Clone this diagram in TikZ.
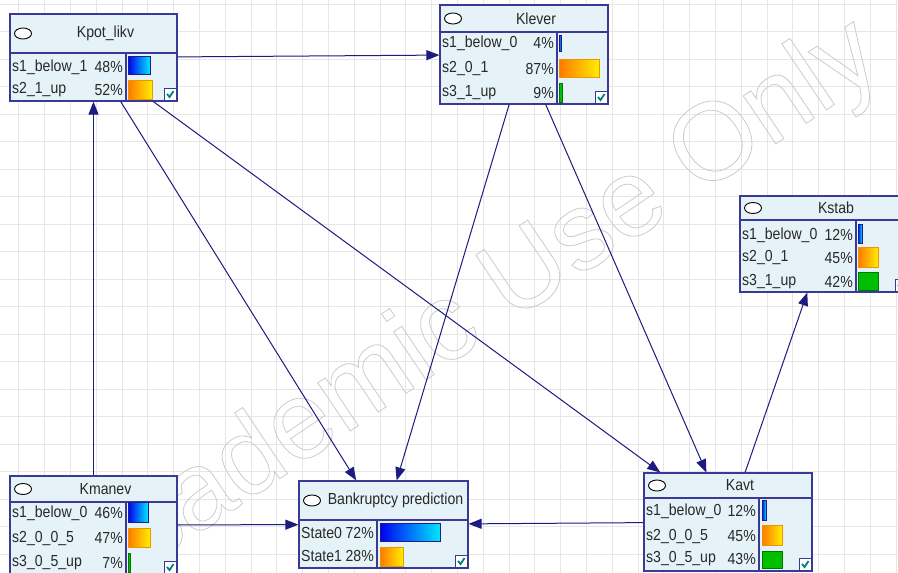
\documentclass[tikz,border=0pt]{standalone}
\usepackage{fontspec}
\setmainfont{Liberation Sans}
\newfontfamily\boxfont[FakeStretch=0.88]{Liberation Sans}
\usetikzlibrary{arrows.meta}

\definecolor{boxfill}{RGB}{229,243,248}
\definecolor{navyline}{RGB}{58,58,150}
\definecolor{arcnavy}{RGB}{28,28,128}
\definecolor{gridgray}{RGB}{230,230,230}
\definecolor{tickteal}{RGB}{0,128,128}
\definecolor{blueL}{RGB}{0,0,240}
\definecolor{blueR}{RGB}{0,230,255}
\definecolor{blueD}{RGB}{30,30,130}
\definecolor{orangeL}{RGB}{255,120,0}
\definecolor{orangeR}{RGB}{255,238,0}
\definecolor{orangeD}{RGB}{235,150,0}
\definecolor{greenF}{RGB}{0,190,0}
\definecolor{greenD}{RGB}{0,120,0}
\definecolor{textgray}{RGB}{40,40,40}

\tikzset{
  netbox/.style={draw=navyline, fill=boxfill, line width=1.2pt, inner sep=0pt},
  divline/.style={draw=navyline, line width=1.2pt},
  nodeoval/.style={draw=black, fill=white, line width=0.9pt},
  titletext/.style={inner sep=0pt, text=textgray, font=\boxfont\fontsize{16}{18}\selectfont},
  rowtext/.style={inner sep=0pt, text=textgray, font=\boxfont\fontsize{16}{18}\selectfont},
  tickbox/.style={draw=navyline, fill=white, line width=1pt},
  tickmark/.style={draw=tickteal, line width=1.8pt},
  bluebar/.style={left color=blueL, right color=blueR, draw=blueD, line width=0.8pt},
  orangebar/.style={left color=orangeL, right color=orangeR, draw=orangeD, line width=0.8pt},
  greenbar/.style={fill=greenF, draw=greenD, line width=0.8pt},
  gridline/.style={draw=gridgray, line width=0.6pt},
  arc/.style={draw=arcnavy, line width=1pt, -{Triangle[length=13pt, width=10pt]}},
  watermark/.style={inner sep=0pt, text=gray!40, font=\fontsize{110}{110}\selectfont}
}

% name, left, top, right, bottom, title bottom, column, title
\newcommand{\netnode}[8]{%
  \node[netbox, minimum width={#4-#2}, minimum height={#5-#3}] (#1) at ({(#2+#4)/2},{(#3+#5)/2}) {};
  \draw[divline] (#2,#6) -- (#4,#6);
  \draw[divline] (#7,#6) -- (#7,#5);
  \draw[nodeoval] (#2+13,{(#3+#6)/2}) ellipse (8.5 and 5.5);
  \node[titletext] (#1t) at ({(#2+24+#4)/2},{(#3+#6)/2}) {#8};
  \draw[tickbox] (#4-13,#5-13) rectangle (#4-1,#5-1);
  \draw[tickmark] (#4-10,#5-7) -- (#4-7.5,#5-4) -- (#4-3.5,#5-10);
}
% name, left, column, y, state, percent
\newcommand{\staterow}[6]{%
  \node[rowtext, anchor=west] (#1) at (#2+2,#4) {#5};
  \node[rowtext, anchor=east] (#1p) at (#3-3,#4) {#6};
}

\begin{document}
\begin{tikzpicture}[x=1pt, y=-1pt]
\useasboundingbox (0,0) rectangle (898,573);
\clip (0,0) rectangle (898,573);
\fill[white] (0,0) rectangle (898,573);

% grid
\foreach \gx in {18.6,44.4,...,898} \draw[gridline] (\gx,0) -- (\gx,573);
\foreach \gy in {4.2,31.7,...,573} \draw[gridline] (0,\gy) -- (898,\gy);

\node[watermark, rotate=34] (stamp) at (470,316)
  {\special{pdf:literal direct 1 Tr 0.8 w}Academic Use Only\special{pdf:literal direct 0 Tr}};

% Kpot_likv
\netnode{kpot}{10}{14}{177}{101}{53}{126}{Kpot\_likv}
\staterow{kpotA}{10}{126}{67}{s1\_below\_1}{48\%}
\staterow{kpotB}{10}{126}{90}{s2\_1\_up}{52\%}
\path[bluebar] (128,56) rectangle (150,74);
\path[orangebar] (128,80) rectangle (152,99);

% Klever
\netnode{klever}{440}{5}{608}{104}{32}{557}{Klever}
\staterow{kleverA}{440}{557}{43}{s1\_below\_0}{4\%}
\staterow{kleverB}{440}{557}{69}{s2\_0\_1}{87\%}
\staterow{kleverC}{440}{557}{93}{s3\_1\_up}{9\%}
\path[bluebar] (559,35) rectangle (561,51);
\path[orangebar] (559,59) rectangle (599,77);
\path[greenbar] (559,83) rectangle (562,102);

% Kstab
\netnode{kstab}{740}{196}{908}{292}{220}{856}{Kstab}
\staterow{kstabA}{740}{856}{235}{s1\_below\_0}{12\%}
\staterow{kstabB}{740}{856}{258}{s2\_0\_1}{45\%}
\staterow{kstabC}{740}{856}{282}{s3\_1\_up}{42\%}
\path[bluebar] (858,224) rectangle (862,243);
\path[orangebar] (858,247) rectangle (878,267);
\path[greenbar] (858,272) rectangle (878,290);

% Kmanev
\netnode{kmanev}{10}{476}{177}{574}{502}{126}{Kmanev}
\staterow{kmanevA}{10}{126}{513}{s1\_below\_0}{46\%}
\staterow{kmanevB}{10}{126}{538}{s2\_0\_0\_5}{47\%}
\staterow{kmanevC}{10}{126}{563}{s3\_0\_5\_up}{7\%}
\path[bluebar] (128,502) rectangle (148,522);
\path[orangebar] (128,528) rectangle (150,547);
\path[greenbar] (128,553) rectangle (130,572);

% Bankruptcy prediction
\netnode{bankrupt}{299}{481}{468}{568}{520}{377}{Bankruptcy prediction}
\staterow{bankruptA}{299}{377}{533}{State0}{72\%}
\staterow{bankruptB}{299}{377}{556}{State1}{28\%}
\path[bluebar] (380,523) rectangle (440,541);
\path[orangebar] (380,547) rectangle (403,566);

% Kavt
\netnode{kavt}{644}{473}{812}{571}{498}{759}{Kavt}
\staterow{kavtA}{644}{759}{511}{s1\_below\_0}{12\%}
\staterow{kavtB}{644}{759}{536}{s2\_0\_0\_5}{45\%}
\staterow{kavtC}{644}{759}{559}{s3\_0\_5\_up}{43\%}
\path[bluebar] (762,500) rectangle (766,520);
\path[orangebar] (762,525) rectangle (782,545);
\path[greenbar] (762,551) rectangle (782,568);

% arcs
\draw[arc] (kpot) -- (klever);
\draw[arc] (kmanev) -- (kpot);
\draw[arc] (kpot) -- (bankrupt);
\draw[arc] (kpot) -- (kavt);
\draw[arc] (klever) -- (bankrupt);
\draw[arc] (klever) -- (kavt);
\draw[arc] (kavt) -- (kstab);
\draw[arc] (kmanev) -- (bankrupt);
\draw[arc] (kavt) -- (bankrupt);
\end{tikzpicture}
\end{document}
